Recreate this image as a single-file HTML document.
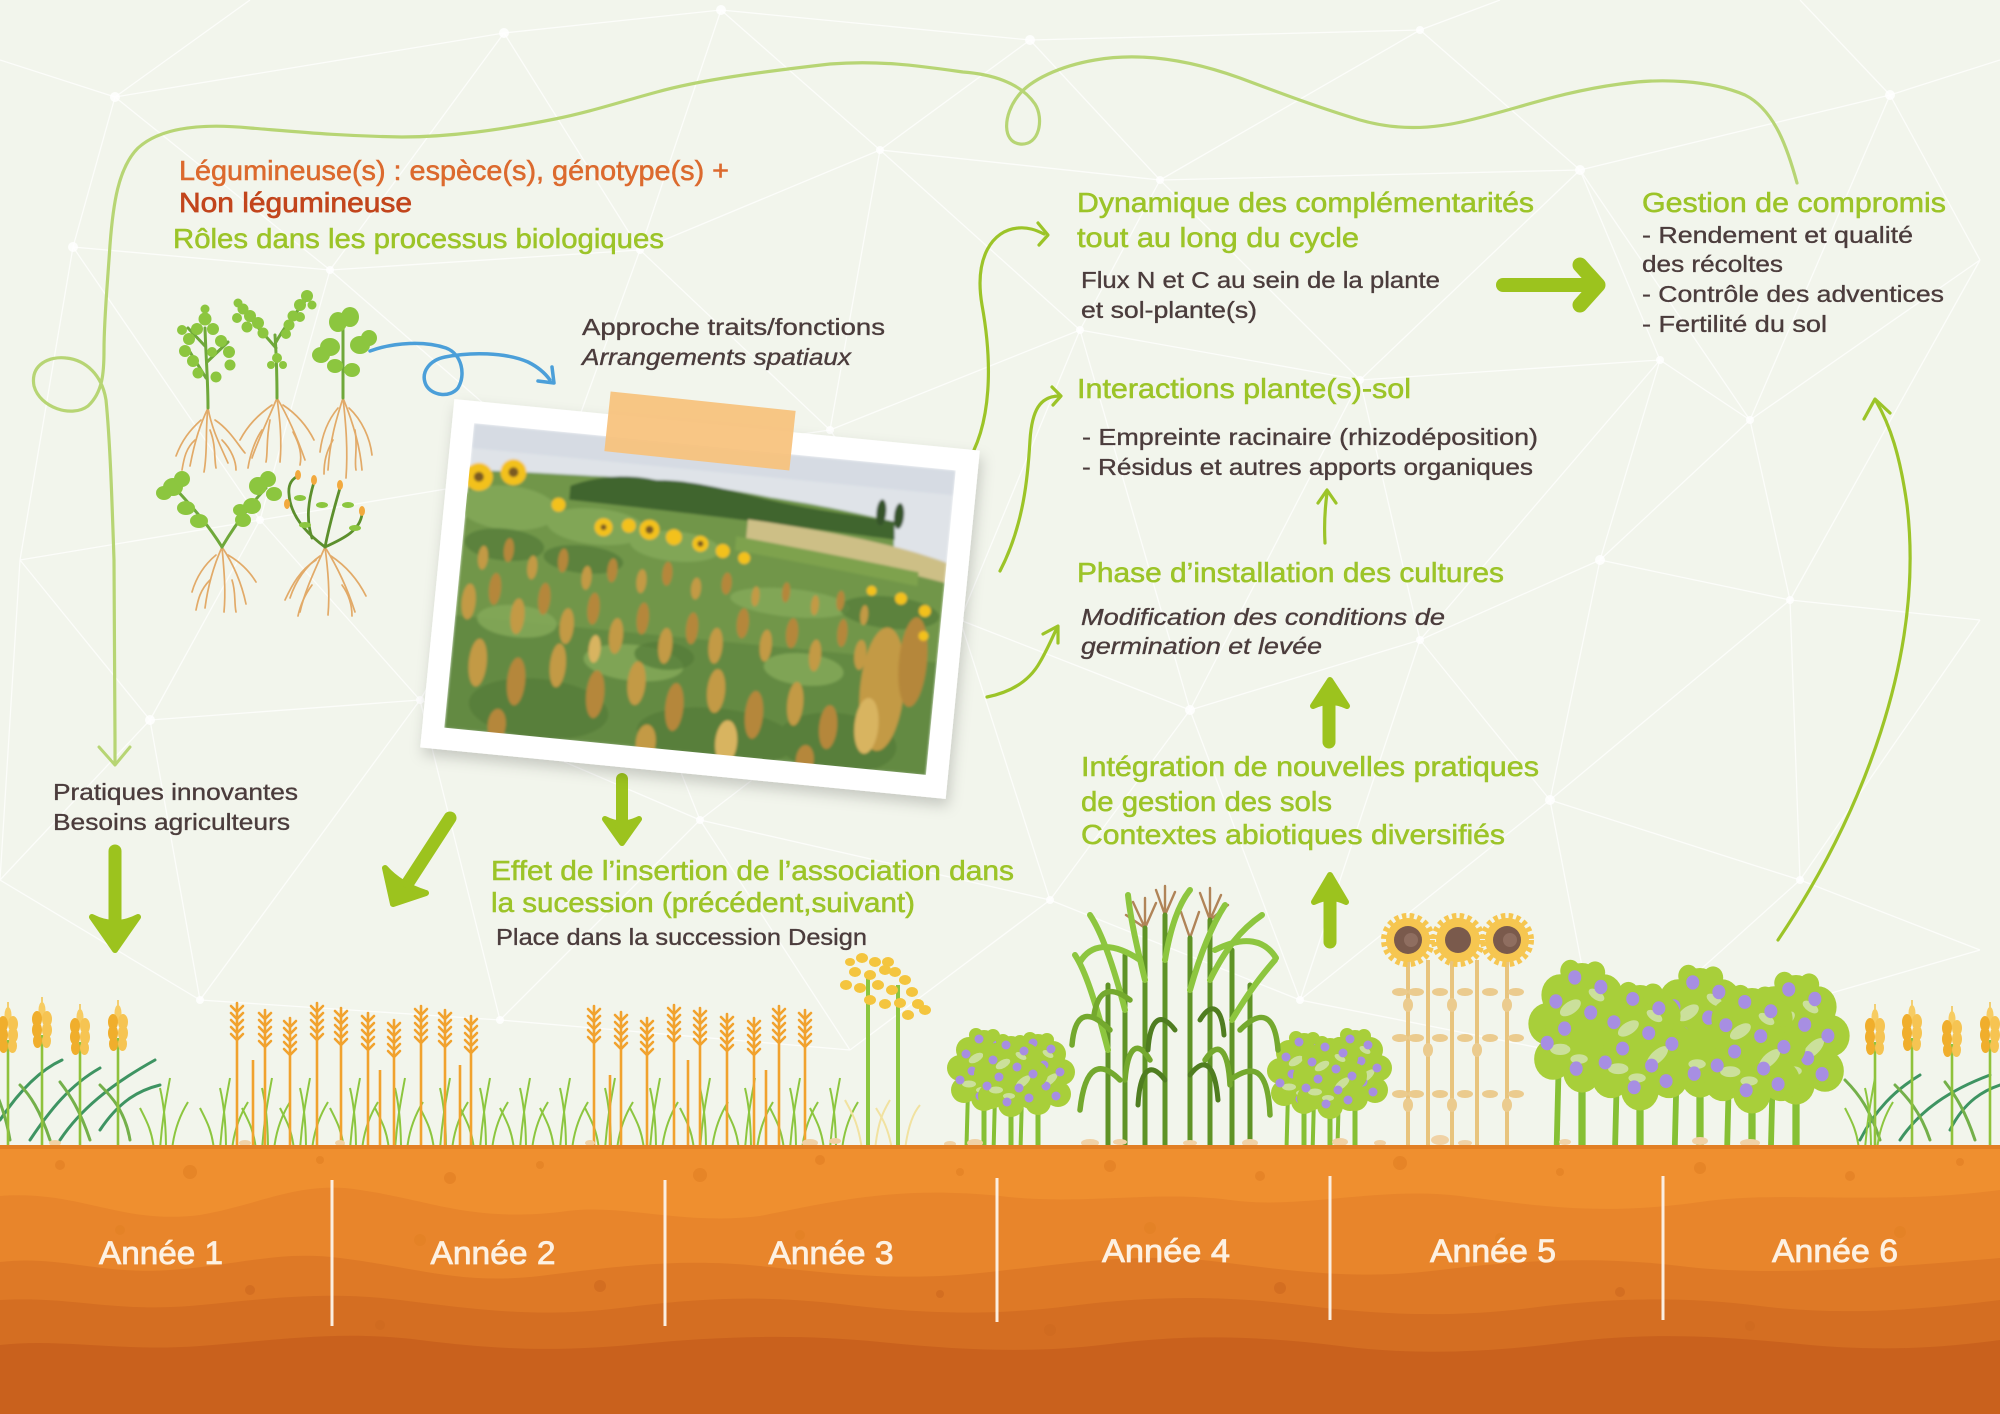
<!DOCTYPE html>
<html><head><meta charset="utf-8"><style>
html,body{margin:0;padding:0;background:#f2f5ec;}
svg{display:block;}
text{font-family:"Liberation Sans","DejaVu Sans",sans-serif;}
.g{fill:#9cc428;stroke:#9cc428;stroke-width:.55;font-size:28px;}
.d{fill:#4b3c3c;stroke:#4b3c3c;stroke-width:.35;font-size:23px;}
.i{font-style:italic;}
.y{fill:#fdf1e2;stroke:#fdf1e2;stroke-width:.8;font-size:32px;}
</style></head><body>
<svg width="2000" height="1414" viewBox="0 0 2000 1414" xmlns="http://www.w3.org/2000/svg">
<defs>
<filter id="sh" x="-10%" y="-10%" width="130%" height="130%"><feDropShadow dx="3" dy="7" stdDeviation="7" flood-color="#000" flood-opacity="0.18"/></filter>
<filter id="bl"><feGaussianBlur stdDeviation="1.3"/></filter>
<clipPath id="pc"><rect x="-242" y="-153" width="484" height="306"/></clipPath>
<g id="wy">
 <line x1="0" y1="30" x2="0" y2="170" stroke="#8fc23c" stroke-width="2.6"/>
 <path d="M0,-8 L0,4" stroke="#f3c04a" stroke-width="1.5"/>
 <ellipse cx="0" cy="5" rx="3.5" ry="8" fill="#f7cc62"/>
 <ellipse cx="-5" cy="14" rx="5" ry="8" fill="#f0ae2c"/>
 <ellipse cx="5" cy="14" rx="5" ry="8" fill="#f6c452"/>
 <ellipse cx="-5" cy="25" rx="5" ry="8" fill="#f0ae2c"/>
 <ellipse cx="5" cy="25" rx="5" ry="8" fill="#f6c452"/>
 <ellipse cx="-4.5" cy="36" rx="4.5" ry="7" fill="#f0ae2c"/>
 <ellipse cx="4.5" cy="36" rx="4.5" ry="7" fill="#f6c452"/>
</g>
<g id="sp" fill="none" stroke="#f1a22e" stroke-width="2.6" stroke-linecap="round">
 <line x1="0" y1="0" x2="0" y2="175"/>
 <polyline points="-6,3 0,9 6,3"/><polyline points="-6,10 0,16 6,10"/><polyline points="-6,17 0,23 6,17"/><polyline points="-6,24 0,30 6,24"/><polyline points="-6,31 0,37 6,31"/>
</g>
<g id="gr" stroke="#8cc63f" stroke-width="2" fill="none">
 <path d="M0,0 C2,-30 6,-50 10,-72"/><path d="M6,0 C6,-25 4,-45 0,-62"/><path d="M12,0 C14,-20 20,-35 28,-48"/><path d="M-6,0 C-8,-20 -14,-30 -20,-42"/>
</g>
<g id="bu">
 <line x1="0" y1="55" x2="0" y2="135" stroke="#86c034" stroke-width="5"/>
 <line x1="-16" y1="60" x2="-18" y2="135" stroke="#86c034" stroke-width="4"/>
 <g fill="#a8cf3a">
 <circle cx="0" cy="14" r="14"/><circle cx="-15" cy="20" r="13"/><circle cx="15" cy="20" r="13"/><circle cx="-24" cy="38" r="13"/><circle cx="24" cy="38" r="13"/><circle cx="0" cy="40" r="25"/><circle cx="-20" cy="60" r="13"/><circle cx="20" cy="60" r="13"/><circle cx="0" cy="68" r="13"/><circle cx="-8" cy="5" r="7"/><circle cx="9" cy="6" r="7"/>
 </g>
 <g fill="#cbe09b">
 <ellipse cx="-8" cy="28" rx="8" ry="4" transform="rotate(-30 -8 28)"/><ellipse cx="12" cy="46" rx="9" ry="4" transform="rotate(-40 12 46)"/><ellipse cx="-15" cy="54" rx="7" ry="3.5"/><ellipse cx="10" cy="20" rx="6" ry="3" transform="rotate(30 10 20)"/><ellipse cx="-2" cy="60" rx="6" ry="3"/>
 </g>
 <g fill="#a78ee2">
 <circle cx="-5" cy="9" r="4.5"/><circle cx="13" cy="15" r="4.5"/><circle cx="-18" cy="24" r="4.5"/><circle cx="6" cy="31" r="4.5"/><circle cx="-12" cy="41" r="4.5"/><circle cx="22" cy="38" r="4.5"/><circle cx="-24" cy="50" r="4.5"/><circle cx="8" cy="52" r="4.5"/><circle cx="-4" cy="66" r="4.5"/><circle cx="18" cy="62" r="4.5"/>
 </g>
</g>
</defs>

<rect width="2000" height="1414" fill="#f2f5ec"/>

<!-- network -->
<path fill="none" stroke="#ffffff" stroke-width="1.3" opacity="0.75" d="
M115,97L504,33 M504,33L721,10 M115,97L73,247 M115,97L330,270 M504,33L330,270 M504,33L640,250 M721,10L640,250 M721,10L880,150 M721,10L1030,40 M880,150L1030,40 M640,250L880,150 M880,150L1160,180 M1030,40L1160,180 M1030,40L1420,30 M1160,180L1420,30 M1420,30L1580,170 M1160,180L1580,170 M1580,170L1890,95 M1890,95L1980,260 M1580,170L1660,360 M1580,170L1750,420 M1890,95L1750,420 M1980,260L1750,420 M1160,180L1080,330 M1080,330L1360,380 M1160,180L1360,380 M1360,380L1580,170 M1360,380L1660,360 M1660,360L1750,420 M880,150L1080,330 M640,250L830,430 M880,150L830,430 M1080,330L830,430 M330,270L640,250 M330,270L560,470 M640,250L560,470 M830,430L560,470 M73,247L330,270 M73,247L260,520 M330,270L260,520 M260,520L560,470 M73,247L20,560 M20,560L260,520 M260,520L150,720 M20,560L150,720 M260,520L420,700 M560,470L420,700 M150,720L420,700 M420,700L700,820 M560,470L700,820 M830,430L960,620 M700,820L960,620 M1080,330L960,620 M960,620L1190,710 M1080,330L1190,710 M1360,380L1190,710 M1360,380L1420,640 M1190,710L1420,640 M1660,360L1420,640 M1660,360L1600,560 M1420,640L1600,560 M1750,420L1600,560 M1750,420L1790,600 M1600,560L1790,600 M1790,600L1980,260 M1790,600L1980,620 M1420,640L1550,800 M1600,560L1550,800 M1790,600L1550,800 M1550,800L1800,880 M1790,600L1800,880 M1980,620L1800,880 M1800,880L1980,950 M1190,710L1050,900 M700,820L1050,900 M960,620L1050,900 M1050,900L1300,1000 M1190,710L1300,1000 M1420,640L1300,1000 M1550,800L1300,1000 M1300,1000L1600,1060 M1550,800L1600,1060 M1800,880L1600,1060 M150,720L200,1000 M420,700L200,1000 M420,700L500,1020 M700,820L500,1020 M500,1020L200,1000 M700,820L850,1050 M1050,900L850,1050 M500,1020L850,1050 M20,560L0,880 M150,720L0,880 M200,1000L0,880 M115,97L0,60 M115,97L250,0 M1890,95L1800,0 M1420,30L1500,0 M1890,95L2000,60 M1980,950L1600,1060"/>
<g fill="#ffffff" opacity="0.85">
<circle cx="115" cy="97" r="5"/><circle cx="504" cy="33" r="5"/><circle cx="721" cy="10" r="5"/><circle cx="73" cy="247" r="5"/><circle cx="330" cy="270" r="4"/><circle cx="640" cy="250" r="4"/><circle cx="880" cy="150" r="4"/><circle cx="1030" cy="40" r="5"/><circle cx="1160" cy="180" r="4"/><circle cx="1420" cy="30" r="4"/><circle cx="1580" cy="170" r="5"/><circle cx="1890" cy="95" r="5"/><circle cx="1660" cy="360" r="4"/><circle cx="1360" cy="380" r="4"/><circle cx="1080" cy="330" r="4"/><circle cx="830" cy="430" r="4"/><circle cx="560" cy="470" r="4"/><circle cx="260" cy="520" r="4"/><circle cx="150" cy="720" r="5"/><circle cx="420" cy="700" r="4"/><circle cx="700" cy="820" r="4"/><circle cx="960" cy="620" r="4"/><circle cx="1190" cy="710" r="5"/><circle cx="1050" cy="900" r="4"/><circle cx="1420" cy="640" r="4"/><circle cx="1600" cy="560" r="5"/><circle cx="1790" cy="600" r="4"/><circle cx="1550" cy="800" r="5"/><circle cx="1800" cy="880" r="4"/><circle cx="1300" cy="1000" r="4"/><circle cx="500" cy="1020" r="4"/><circle cx="200" cy="1000" r="4"/><circle cx="1750" cy="420" r="4"/>
</g>

<!-- big light green line -->
<path fill="none" stroke="#b7d574" stroke-width="3.2" stroke-linecap="round" d="M1797,183 C1788,150 1775,110 1745,95 C1710,80 1660,78 1620,84 C1560,92 1520,108 1470,120 C1430,130 1395,130 1360,120 C1320,108 1280,93 1240,78 C1190,60 1140,52 1095,60 C1060,66 1030,80 1018,96 C1003,115 1002,142 1020,144 C1040,146 1044,118 1035,104 C1020,82 990,74 963,72 C920,66 880,60 830,64 C760,72 700,80 657,92 C620,102 590,112 555,119 C500,130 450,137 402,137 C340,136 300,132 250,128 C200,123 160,128 138,148 C118,168 113,205 110,245 C107,290 104,320 104,350 C104,372 103,392 88,406 C72,418 40,408 34,386 C30,364 50,356 66,358 C86,360 102,375 106,400 C110,440 112,500 114,560 C115,640 115,700 115,763"/>
<polyline points="99,747 115,765 130,747" fill="none" stroke="#b7d574" stroke-width="3" stroke-linecap="round" stroke-linejoin="round"/>

<!-- right return arrow -->
<path d="M1778,940 C1862,815 1925,655 1907,505 C1900,455 1890,425 1876,401" fill="none" stroke="#9cc428" stroke-width="3.2" stroke-linecap="round"/>
<polyline points="1864,419 1875,399 1890,413" fill="none" stroke="#9cc428" stroke-width="3.2" stroke-linecap="round" stroke-linejoin="round"/>

<!-- thin green arrows from photo -->
<g fill="none" stroke="#9cc428" stroke-width="3.2" stroke-linecap="round" stroke-linejoin="round">
<path d="M965,466 C993,425 992,360 982,305 C974,258 992,230 1018,228 C1028,227 1036,230 1044,234"/>
<polyline points="1038,223 1048,235 1039,245"/>
<path d="M1000,571 C1024,525 1028,475 1030,440 C1032,410 1040,397 1058,396"/>
<polyline points="1052,387 1061,396 1053,405"/>
<path d="M987,697 C1012,692 1030,680 1040,662 C1047,650 1052,638 1057,628"/>
<polyline points="1043,634 1058,626 1058,643"/>
<path d="M1325,543 C1324,525 1325,508 1327,493"/>
<polyline points="1318,503 1327,490 1336,503"/>
</g>

<!-- thick arrows -->
<g fill="#9cc31e" stroke="#9cc31e" stroke-linecap="round" stroke-linejoin="round">
<line x1="1503" y1="285" x2="1584" y2="285" stroke-width="14"/>
<polyline points="1580,265 1598,285 1580,305" fill="none" stroke-width="15"/>
<line x1="1329" y1="742" x2="1329" y2="700" stroke-width="13"/>
<path d="M1313,706 Q1330,698 1347,706 L1330,680 Z" stroke-width="6"/>
<line x1="1330" y1="942" x2="1330" y2="898" stroke-width="13"/>
<path d="M1314,902 Q1330,894 1346,902 L1330,875 Z" stroke-width="6"/>
<line x1="115" y1="851" x2="115" y2="925" stroke-width="13"/>
<path d="M92,917 Q115,929 138,917 L115,950 Z" stroke-width="6"/>
<line x1="622" y1="779" x2="622" y2="826" stroke-width="12"/>
<path d="M605,819 Q622,828 639,819 L622,843 Z" stroke-width="6"/>
<line x1="450" y1="818" x2="402" y2="892" stroke-width="13"/>
<path d="M385,868 Q400,885 426,893 L393,904 Z" stroke-width="6"/>
</g>

<!-- blue curly arrow -->
<path d="M370,351 C395,342 425,341 446,348 C462,354 466,375 458,388 C450,398 432,396 426,385 C420,372 430,360 445,357 C470,352 505,352 528,362 C538,367 545,373 550,380" fill="none" stroke="#4b9fd9" stroke-width="3.5" stroke-linecap="round"/>
<polyline points="552,367 554,383 538,381" fill="none" stroke="#4b9fd9" stroke-width="3.5" stroke-linecap="round" stroke-linejoin="round"/>

<!-- texts -->
<text x="179" y="180" textLength="550" lengthAdjust="spacingAndGlyphs" style="fill:#dc6a2e;stroke:#dc6a2e;stroke-width:.55;font-size:28px">Légumineuse(s) : espèce(s), génotype(s) +</text>
<text x="179" y="212" textLength="233" lengthAdjust="spacingAndGlyphs" style="fill:#c2451c;stroke:#c2451c;stroke-width:.7;font-size:28px">Non légumineuse</text>
<text class="g" x="173" y="248" textLength="491" lengthAdjust="spacingAndGlyphs">Rôles dans les processus biologiques</text>
<text class="d" x="582" y="335" textLength="303" lengthAdjust="spacingAndGlyphs">Approche traits/fonctions</text>
<text class="d i" x="582" y="365" textLength="269" lengthAdjust="spacingAndGlyphs">Arrangements spatiaux</text>

<text class="g" x="1077" y="212" textLength="457" lengthAdjust="spacingAndGlyphs">Dynamique des complémentarités</text>
<text class="g" x="1077" y="247" textLength="282" lengthAdjust="spacingAndGlyphs">tout au long du cycle</text>
<text class="d" x="1081" y="288" textLength="359" lengthAdjust="spacingAndGlyphs">Flux N et C au sein de la plante</text>
<text class="d" x="1081" y="318" textLength="176" lengthAdjust="spacingAndGlyphs">et sol-plante(s)</text>

<text class="g" x="1642" y="212" textLength="304" lengthAdjust="spacingAndGlyphs">Gestion de compromis</text>
<text class="d" x="1642" y="243" textLength="271" lengthAdjust="spacingAndGlyphs">- Rendement et qualité</text>
<text class="d" x="1642" y="272" textLength="141" lengthAdjust="spacingAndGlyphs">des récoltes</text>
<text class="d" x="1642" y="302" textLength="302" lengthAdjust="spacingAndGlyphs">- Contrôle des adventices</text>
<text class="d" x="1642" y="332" textLength="185" lengthAdjust="spacingAndGlyphs">- Fertilité du sol</text>

<text class="g" x="1077" y="398" textLength="334" lengthAdjust="spacingAndGlyphs">Interactions plante(s)-sol</text>
<text class="d" x="1082" y="445" textLength="456" lengthAdjust="spacingAndGlyphs">- Empreinte racinaire (rhizodéposition)</text>
<text class="d" x="1082" y="475" textLength="451" lengthAdjust="spacingAndGlyphs">- Résidus et autres apports organiques</text>

<text class="g" x="1077" y="582" textLength="427" lengthAdjust="spacingAndGlyphs">Phase d’installation des cultures</text>
<text class="d i" x="1081" y="625" textLength="364" lengthAdjust="spacingAndGlyphs">Modification des conditions de</text>
<text class="d i" x="1081" y="654" textLength="241" lengthAdjust="spacingAndGlyphs">germination et levée</text>

<text class="g" x="1081" y="776" textLength="458" lengthAdjust="spacingAndGlyphs">Intégration de nouvelles pratiques</text>
<text class="g" x="1081" y="811" textLength="251" lengthAdjust="spacingAndGlyphs">de gestion des sols</text>
<text class="g" x="1081" y="844" textLength="424" lengthAdjust="spacingAndGlyphs">Contextes abiotiques diversifiés</text>

<text class="d" x="53" y="800" textLength="245" lengthAdjust="spacingAndGlyphs">Pratiques innovantes</text>
<text class="d" x="53" y="830" textLength="237" lengthAdjust="spacingAndGlyphs">Besoins agriculteurs</text>

<text class="g" x="491" y="880" textLength="523" lengthAdjust="spacingAndGlyphs">Effet de l’insertion de l’association dans</text>
<text class="g" x="491" y="912" textLength="424" lengthAdjust="spacingAndGlyphs">la sucession (précédent,suivant)</text>
<text class="d" x="496" y="945" textLength="371" lengthAdjust="spacingAndGlyphs">Place dans la succession Design</text>

<!-- seedlings -->
<g fill="none" stroke-linecap="round">
 <g stroke="#e2aa68" stroke-width="1.7">
  <path d="M208,408 C200,425 195,440 190,466"/><path d="M208,408 C212,430 220,445 228,463"/><path d="M208,408 C205,430 208,450 204,472"/><path d="M201,420 C190,430 182,440 176,456"/><path d="M215,420 C230,430 238,445 245,453"/><path d="M195,440 C186,448 184,458 182,470"/><path d="M222,440 C232,450 236,462 236,470"/><path d="M210,430 C216,445 214,458 216,468"/>
  <path d="M277,398 C268,420 258,440 252,458"/><path d="M277,398 C280,420 282,440 280,462"/><path d="M277,398 C290,420 298,440 305,460"/><path d="M272,405 C258,415 248,425 240,440"/><path d="M283,405 C298,415 308,428 314,440"/><path d="M262,430 C255,440 250,455 248,468"/><path d="M293,432 C300,445 302,455 300,465"/><path d="M270,420 C266,440 268,452 266,462"/>
  <path d="M343,398 C336,420 330,440 328,470"/><path d="M343,398 C346,425 348,450 346,478"/><path d="M343,398 C352,420 360,445 362,470"/><path d="M338,408 C328,420 322,435 320,452"/><path d="M349,408 C362,420 370,438 372,455"/><path d="M333,440 C326,452 324,462 324,474"/><path d="M355,430 C358,448 354,460 356,470"/>
  <path d="M222,547 C214,565 208,585 205,608"/><path d="M222,547 C224,570 226,590 224,612"/><path d="M222,547 C234,565 242,585 246,604"/><path d="M216,555 C204,565 196,578 192,592"/><path d="M228,555 C240,562 250,572 256,582"/><path d="M210,580 C200,590 198,600 196,610"/><path d="M232,580 C236,592 234,602 236,612"/>
  <path d="M325,547 C315,570 305,590 300,612"/><path d="M325,547 C328,570 330,592 328,615"/><path d="M325,547 C338,568 348,590 355,612"/><path d="M320,556 C306,566 296,580 290,598"/><path d="M331,556 C346,566 358,580 366,596"/><path d="M312,585 C304,596 300,606 298,616"/><path d="M342,585 C350,596 352,606 352,616"/><path d="M316,560 C300,570 292,585 285,600"/>
 </g>
 <g stroke="#6fa83a" stroke-width="3">
  <path d="M208,408 C208,380 206,360 205,328"/><path d="M206,378 L190,352"/><path d="M207,362 L228,342"/><path d="M205,346 L188,328"/>
  <path d="M277,398 C277,370 276,350 275,335"/><path d="M276,348 C265,335 255,325 244,310"/><path d="M276,342 C285,326 295,314 306,300"/>
  <path d="M343,398 L343,328"/>
  <path d="M222,547 C205,520 190,505 175,488"/><path d="M222,547 C235,525 250,505 266,488"/>
 </g>
 <g stroke="#5c8f2c" stroke-width="2.8">
  <path d="M325,547 C302,530 290,512 289,494 C288,484 292,479 298,476"/><path d="M325,547 C330,522 335,505 340,488"/><path d="M325,547 C345,538 360,530 362,514"/><path d="M312,538 C306,520 308,502 314,482"/>
 </g>
</g>
<g fill="#8cc63f">
 <circle cx="205" cy="319" r="6.5"/><circle cx="197" cy="329" r="6"/><circle cx="213" cy="329" r="6"/><circle cx="189" cy="339" r="6"/><circle cx="221" cy="341" r="6"/><circle cx="185" cy="351" r="6"/><circle cx="229" cy="352" r="6"/><circle cx="193" cy="361" r="6"/><circle cx="230" cy="365" r="5.5"/><circle cx="198" cy="373" r="5.5"/><circle cx="216" cy="377" r="5.5"/><circle cx="182" cy="330" r="5"/><circle cx="212" cy="352" r="5"/><circle cx="205" cy="309" r="4.5"/>
 <circle cx="250" cy="316" r="6"/><circle cx="258" cy="323" r="6"/><circle cx="263" cy="333" r="5.5"/><circle cx="247" cy="327" r="5.5"/><circle cx="243" cy="309" r="5.5"/><circle cx="237" cy="318" r="5"/><circle cx="300" cy="305" r="6"/><circle cx="307" cy="296" r="6"/><circle cx="293" cy="316" r="5.5"/><circle cx="289" cy="325" r="5.5"/><circle cx="300" cy="317" r="5"/><circle cx="286" cy="334" r="5"/><circle cx="277" cy="358" r="5"/><circle cx="271" cy="365" r="4"/><circle cx="283" cy="365" r="4"/><circle cx="312" cy="305" r="4.5"/><circle cx="238" cy="303" r="4.5"/>
 <ellipse cx="338" cy="322" rx="9" ry="10"/><ellipse cx="350" cy="317" rx="9" ry="10"/><ellipse cx="330" cy="347" rx="10" ry="9"/><ellipse cx="321" cy="355" rx="9" ry="8"/><ellipse cx="360" cy="345" rx="10" ry="9"/><ellipse cx="369" cy="338" rx="8" ry="8"/><ellipse cx="335" cy="366" rx="8" ry="7"/><ellipse cx="352" cy="370" rx="8" ry="7"/>
 <ellipse cx="173" cy="487" rx="10" ry="9"/><ellipse cx="182" cy="479" rx="8" ry="8"/><ellipse cx="164" cy="493" rx="8" ry="7"/><ellipse cx="186" cy="508" rx="9" ry="7"/><ellipse cx="199" cy="521" rx="9" ry="7"/><ellipse cx="258" cy="486" rx="9" ry="9"/><ellipse cx="268" cy="479" rx="8" ry="8"/><ellipse cx="274" cy="494" rx="8" ry="7"/><ellipse cx="252" cy="506" rx="9" ry="8"/><ellipse cx="243" cy="520" rx="8" ry="7"/><ellipse cx="240" cy="510" rx="7" ry="6"/>
 <ellipse cx="300" cy="498" rx="6" ry="3"/><ellipse cx="322" cy="505" rx="6" ry="3"/><ellipse cx="348" cy="505" rx="6" ry="3"/><ellipse cx="355" cy="528" rx="6" ry="3"/><ellipse cx="305" cy="525" rx="6" ry="3"/>
</g>
<g fill="#f2a93e">
 <ellipse cx="298" cy="475" rx="3" ry="5"/><ellipse cx="314" cy="480" rx="3" ry="5"/><ellipse cx="340" cy="485" rx="3" ry="5"/><ellipse cx="362" cy="511" rx="3" ry="5"/><ellipse cx="287" cy="504" rx="3" ry="5"/>
</g>

<!-- photo -->
<g transform="translate(700,599) rotate(5.6)">
 <rect x="-264" y="-175" width="528" height="350" fill="#ffffff" filter="url(#sh)"/>
 <g clip-path="url(#pc)">
  <g filter="url(#bl)">
  <rect x="-242" y="-153" width="484" height="306" fill="#71964a"/>
  <rect x="-242" y="40" width="484" height="120" fill="#5f8540" opacity="0.7"/>
  <path d="M-242,-153 H242 V-58 C225,-60 205,-64 188,-68 L186,-96 C140,-102 100,-106 60,-108 C0,-114 -60,-116 -120,-112 C-170,-110 -210,-108 -242,-106 Z" fill="#dfe3e8"/>
  <path d="M-242,-153 H242 V-128 H-242 Z" fill="#d6dbe3"/>
  <path d="M-140,-100 C-115,-112 -85,-118 -55,-114 C-25,-118 15,-112 55,-106 C100,-100 140,-99 186,-96 L188,-78 C120,-80 40,-84 -140,-86 Z" fill="#40652f"/>
  <ellipse cx="172" cy="-104" rx="5" ry="13" fill="#34522a"/><ellipse cx="190" cy="-102" rx="5" ry="13" fill="#34522a"/>
  <path d="M40,-84 C120,-80 190,-74 242,-60 L242,-40 C180,-50 110,-58 40,-64 Z" fill="#cdbf86"/>
  <path d="M30,-66 C100,-60 160,-54 215,-48 L215,-34 C160,-40 100,-46 30,-52 Z" fill="#7ea24d"/>
  <g fill="#86ab5a" opacity="0.8">
   <ellipse cx="-200" cy="-72" rx="50" ry="22"/><ellipse cx="-110" cy="-62" rx="50" ry="18"/><ellipse cx="-30" cy="-50" rx="45" ry="15"/><ellipse cx="90" cy="-5" rx="60" ry="14"/><ellipse cx="-60" cy="70" rx="50" ry="18"/><ellipse cx="110" cy="60" rx="40" ry="16"/><ellipse cx="-180" cy="40" rx="40" ry="16"/>
  </g>
  <g fill="#557c38" opacity="0.75">
   <ellipse cx="-200" cy="-35" rx="40" ry="16"/><ellipse cx="-120" cy="-28" rx="40" ry="14"/><ellipse cx="190" cy="-5" rx="50" ry="16"/><ellipse cx="-150" cy="125" rx="70" ry="30"/><ellipse cx="30" cy="135" rx="80" ry="28"/><ellipse cx="150" cy="130" rx="60" ry="30"/><ellipse cx="-30" cy="60" rx="30" ry="14"/>
  </g>
  <g fill="#c39a45">
   <ellipse cx="-220" cy="-20" rx="5" ry="12"/><ellipse cx="-170" cy="-15" rx="5" ry="12"/><ellipse cx="-115" cy="-10" rx="5" ry="12"/><ellipse cx="-60" cy="-12" rx="5" ry="12"/><ellipse cx="-5" cy="-10" rx="5" ry="11"/><ellipse cx="55" cy="-8" rx="4" ry="10"/><ellipse cx="115" cy="-5" rx="4" ry="10"/><ellipse cx="165" cy="0" rx="4" ry="10"/>
   <ellipse cx="-230" cy="25" rx="7" ry="18"/><ellipse cx="-180" cy="35" rx="7" ry="18"/><ellipse cx="-130" cy="40" rx="7" ry="18"/><ellipse cx="-80" cy="45" rx="7" ry="18"/><ellipse cx="-30" cy="50" rx="7" ry="18"/><ellipse cx="20" cy="45" rx="7" ry="18"/><ellipse cx="70" cy="40" rx="6" ry="16"/><ellipse cx="120" cy="45" rx="6" ry="16"/><ellipse cx="165" cy="40" rx="6" ry="15"/>
   <ellipse cx="-215" cy="85" rx="9" ry="24"/><ellipse cx="-135" cy="80" rx="8" ry="22"/><ellipse cx="-55" cy="90" rx="9" ry="22"/><ellipse cx="25" cy="90" rx="9" ry="22"/><ellipse cx="105" cy="95" rx="8" ry="22"/>
   <ellipse cx="190" cy="72" rx="22" ry="62"/><ellipse cx="-40" cy="148" rx="10" ry="18"/>
  </g>
  <g fill="#b5873b">
   <ellipse cx="-195" cy="-30" rx="5" ry="12"/><ellipse cx="-140" cy="-25" rx="5" ry="12"/><ellipse cx="-90" cy="-20" rx="5" ry="12"/><ellipse cx="-35" cy="-22" rx="5" ry="12"/><ellipse cx="25" cy="-18" rx="5" ry="11"/><ellipse cx="85" cy="-15" rx="4" ry="10"/><ellipse cx="140" cy="-12" rx="4" ry="10"/>
   <ellipse cx="-205" cy="10" rx="6" ry="16"/><ellipse cx="-155" cy="15" rx="6" ry="16"/><ellipse cx="-105" cy="20" rx="6" ry="16"/><ellipse cx="-55" cy="25" rx="6" ry="16"/><ellipse cx="-5" cy="30" rx="6" ry="16"/><ellipse cx="45" cy="20" rx="6" ry="15"/><ellipse cx="95" cy="25" rx="6" ry="15"/><ellipse cx="145" cy="20" rx="5" ry="14"/>
   <ellipse cx="-175" cy="100" rx="9" ry="24"/><ellipse cx="-95" cy="105" rx="9" ry="24"/><ellipse cx="-15" cy="110" rx="9" ry="24"/><ellipse cx="65" cy="110" rx="9" ry="24"/><ellipse cx="140" cy="115" rx="9" ry="22"/>
   <ellipse cx="218" cy="42" rx="14" ry="45"/><ellipse cx="-190" cy="145" rx="9" ry="16"/><ellipse cx="120" cy="150" rx="9" ry="15"/>
  </g>
  <g fill="#d8b460"><ellipse cx="40" cy="140" rx="11" ry="22"/><ellipse cx="178" cy="110" rx="12" ry="28"/><ellipse cx="-100" cy="60" rx="6" ry="14"/></g>
  <g fill="#f3c11c">
   <circle cx="-232" cy="-100" r="14"/><circle cx="-198" cy="-108" r="13"/><circle cx="-150" cy="-80" r="7"/><circle cx="-103" cy="-62" r="9"/><circle cx="-78" cy="-66" r="7"/><circle cx="-57" cy="-64" r="10"/><circle cx="-32" cy="-59" r="8"/><circle cx="-5" cy="-55" r="8"/><circle cx="18" cy="-50" r="7"/><circle cx="40" cy="-45" r="6"/><circle cx="170" cy="-25" r="5"/><circle cx="200" cy="-20" r="6"/><circle cx="225" cy="-10" r="6"/><circle cx="226" cy="15" r="5"/>
  </g>
  <g fill="#7a5a20">
   <circle cx="-232" cy="-100" r="5"/><circle cx="-198" cy="-108" r="5"/><circle cx="-57" cy="-64" r="4"/><circle cx="-103" cy="-62" r="3"/><circle cx="-5" cy="-55" r="3"/>
  </g>
  </g>
 </g>
</g>
<g transform="translate(700,431) rotate(6)"><rect x="-93" y="-30" width="186" height="60" fill="#f8c27c" opacity="0.93"/></g>

<!-- crops -->
<g fill="none" stroke-linecap="round">
 <g stroke="#3e9462" stroke-width="3"><path d="M0,1120 C20,1090 40,1070 62,1060"/><path d="M30,1140 C50,1110 70,1085 100,1068"/><path d="M60,1140 C80,1110 110,1085 155,1060"/><path d="M100,1130 C120,1100 140,1090 160,1085"/><path d="M1860,1140 C1875,1110 1895,1090 1920,1075"/><path d="M1900,1140 C1920,1110 1950,1090 1990,1075"/><path d="M1950,1130 C1965,1100 1985,1090 2000,1085"/></g>
 <g stroke="#74b04a" stroke-width="3"><path d="M10,1140 C5,1110 -5,1090 -10,1080"/><path d="M50,1140 C40,1110 30,1095 20,1085"/><path d="M90,1140 C80,1110 70,1095 60,1082"/><path d="M130,1140 C125,1110 110,1095 100,1085"/><path d="M1880,1140 C1870,1110 1860,1095 1845,1080"/><path d="M1930,1140 C1920,1110 1905,1095 1895,1085"/><path d="M1975,1140 C1965,1110 1955,1095 1945,1082"/></g>
</g>
<use href="#wy" x="8" y="1010"/><use href="#wy" x="42" y="1005"/><use href="#wy" x="80" y="1012"/><use href="#wy" x="118" y="1008"/>
<use href="#wy" x="1875" y="1012"/><use href="#wy" x="1912" y="1008"/><use href="#wy" x="1952" y="1014"/><use href="#wy" x="1990" y="1010"/>

<use href="#gr" x="220" y="1150"/><use href="#gr" x="262" y="1150"/><use href="#gr" x="300" y="1150"/><use href="#gr" x="350" y="1150"/><use href="#gr" x="395" y="1150"/><use href="#gr" x="440" y="1150"/><use href="#gr" x="480" y="1150"/><use href="#gr" x="520" y="1150"/><use href="#gr" x="560" y="1150"/><use href="#gr" x="605" y="1150"/><use href="#gr" x="650" y="1150"/><use href="#gr" x="700" y="1150"/><use href="#gr" x="745" y="1150"/><use href="#gr" x="790" y="1150"/><use href="#gr" x="830" y="1150"/><use href="#gr" x="160" y="1150"/><use href="#gr" x="1865" y="1150"/>

<use href="#sp" x="237" y="1003"/><use href="#sp" x="265" y="1010"/><use href="#sp" x="290" y="1018"/><use href="#sp" x="317" y="1003"/><use href="#sp" x="341" y="1008"/><use href="#sp" x="368" y="1013"/><use href="#sp" x="394" y="1020"/><use href="#sp" x="421" y="1006"/><use href="#sp" x="445" y="1010"/><use href="#sp" x="471" y="1016"/>
<use href="#sp" x="594" y="1006"/><use href="#sp" x="621" y="1012"/><use href="#sp" x="647" y="1018"/><use href="#sp" x="674" y="1005"/><use href="#sp" x="700" y="1008"/><use href="#sp" x="727" y="1014"/><use href="#sp" x="754" y="1018"/><use href="#sp" x="779" y="1006"/><use href="#sp" x="805" y="1010"/>
<g stroke="#f1a22e" stroke-width="2.6"><line x1="253" y1="1060" x2="253" y2="1150"/><line x1="380" y1="1070" x2="380" y2="1150"/><line x1="460" y1="1065" x2="460" y2="1150"/><line x1="610" y1="1075" x2="610" y2="1150"/><line x1="688" y1="1060" x2="688" y2="1150"/><line x1="766" y1="1070" x2="766" y2="1150"/></g>

<!-- yellow flower plant -->
<g>
 <line x1="868" y1="975" x2="868" y2="1150" stroke="#8cc63f" stroke-width="4"/>
 <line x1="898" y1="985" x2="898" y2="1150" stroke="#8cc63f" stroke-width="4"/>
 <g stroke="#f1e2a0" stroke-width="2" fill="none"><path d="M862,1150 C858,1120 850,1110 845,1100"/><path d="M875,1150 C878,1120 884,1110 890,1100"/><path d="M892,1150 C888,1125 880,1115 876,1108"/><path d="M905,1150 C908,1125 914,1112 920,1105"/></g>
 <g fill="#f4c53e">
  <ellipse cx="862" cy="958" rx="6" ry="5"/><ellipse cx="875" cy="962" rx="6" ry="5"/><ellipse cx="855" cy="972" rx="6" ry="5"/><ellipse cx="870" cy="975" rx="6" ry="5"/><ellipse cx="885" cy="970" rx="6" ry="5"/><ellipse cx="846" cy="985" rx="6" ry="5"/><ellipse cx="860" cy="988" rx="6" ry="5"/><ellipse cx="878" cy="985" rx="6" ry="5"/><ellipse cx="895" cy="972" rx="6" ry="5"/><ellipse cx="905" cy="980" rx="6" ry="5"/><ellipse cx="892" cy="990" rx="6" ry="5"/><ellipse cx="912" cy="992" rx="6" ry="5"/><ellipse cx="900" cy="1003" rx="6" ry="5"/><ellipse cx="918" cy="1004" rx="6" ry="5"/><ellipse cx="885" cy="1004" rx="6" ry="5"/><ellipse cx="870" cy="1000" rx="6" ry="5"/><ellipse cx="908" cy="1015" rx="6" ry="5"/><ellipse cx="925" cy="1010" rx="6" ry="5"/><ellipse cx="888" cy="962" rx="6" ry="5"/><ellipse cx="850" cy="962" rx="5" ry="4"/>
 </g>
</g>

<use href="#bu" x="984" y="1030"/><use href="#bu" x="1038" y="1034"/><use href="#bu" x="1011" y="1036"/>
<use href="#bu" x="1304" y="1033"/><use href="#bu" x="1355" y="1030"/><use href="#bu" x="1330" y="1038"/>

<!-- corn/sorghum -->
<g fill="none" stroke-linecap="round">
 <g stroke="#b08458" stroke-width="2.4">
  <path d="M1145,928 L1133,902 M1145,928 L1156,903 M1145,928 L1145,898 M1145,928 L1126,915"/>
  <path d="M1165,915 L1156,890 M1165,915 L1175,892 M1165,915 L1165,886"/>
  <path d="M1210,920 L1200,893 M1210,920 L1221,895 M1210,920 L1210,888 M1210,920 L1228,905"/>
  <path d="M1190,938 L1181,912 M1190,938 L1199,912"/>
 </g>
 <g stroke="#5f9326" stroke-width="5">
  <line x1="1108" y1="1150" x2="1108" y2="985"/><line x1="1125" y1="1150" x2="1125" y2="955"/><line x1="1145" y1="1150" x2="1145" y2="928"/><line x1="1165" y1="1150" x2="1165" y2="915"/><line x1="1190" y1="1150" x2="1190" y2="938"/><line x1="1210" y1="1150" x2="1210" y2="920"/><line x1="1232" y1="1150" x2="1232" y2="950"/><line x1="1250" y1="1150" x2="1250" y2="985"/>
 </g>
 <g stroke="#8dc63f" stroke-width="6">
  <path d="M1108,1050 C1095,1000 1085,970 1075,955"/><path d="M1125,1010 C1112,960 1100,930 1090,915"/><path d="M1145,980 C1135,940 1130,915 1128,895"/><path d="M1165,960 C1170,930 1178,905 1190,890"/><path d="M1190,990 C1200,955 1212,925 1225,905"/><path d="M1210,980 C1225,950 1240,930 1262,915"/><path d="M1232,1020 C1250,990 1262,975 1275,960"/>
  <path d="M1140,960 C1110,940 1090,945 1080,962"/><path d="M1215,950 C1245,935 1265,940 1276,958"/>
 </g>
 <g stroke="#74a92e" stroke-width="5.5">
  <path d="M1110,1030 C1090,1010 1075,1010 1072,1045"/><path d="M1120,1080 C1100,1060 1085,1065 1080,1110"/><path d="M1240,1030 C1260,1010 1275,1012 1278,1050"/><path d="M1230,1080 C1255,1062 1268,1070 1270,1115"/><path d="M1150,1060 C1138,1040 1128,1045 1125,1080"/><path d="M1205,1060 C1218,1040 1228,1048 1230,1085"/><path d="M1130,1000 C1110,985 1098,990 1094,1015"/>
 </g>
 <g stroke="#4f7d20" stroke-width="5">
  <path d="M1165,1080 C1150,1060 1140,1070 1138,1105"/><path d="M1190,1075 C1205,1055 1215,1065 1218,1100"/><path d="M1175,1030 C1160,1010 1150,1020 1148,1050"/><path d="M1200,1020 C1212,1000 1222,1008 1224,1035"/>
 </g>
</g>

<!-- sunflowers -->
<g>
 <g stroke="#e8c47e" stroke-width="4"><line x1="1408" y1="960" x2="1408" y2="1150"/><line x1="1428" y1="960" x2="1428" y2="1150"/><line x1="1452" y1="960" x2="1452" y2="1150"/><line x1="1477" y1="960" x2="1477" y2="1150"/><line x1="1507" y1="960" x2="1507" y2="1150"/></g>
 <g fill="#ebcb8e">
  <ellipse cx="1400" cy="992" rx="8" ry="4"/><ellipse cx="1416" cy="992" rx="8" ry="4"/><ellipse cx="1440" cy="992" rx="8" ry="4"/><ellipse cx="1465" cy="992" rx="8" ry="4"/><ellipse cx="1490" cy="992" rx="8" ry="4"/><ellipse cx="1516" cy="992" rx="8" ry="4"/>
  <ellipse cx="1400" cy="1038" rx="8" ry="4"/><ellipse cx="1416" cy="1038" rx="8" ry="4"/><ellipse cx="1440" cy="1038" rx="8" ry="4"/><ellipse cx="1465" cy="1038" rx="8" ry="4"/><ellipse cx="1490" cy="1038" rx="8" ry="4"/><ellipse cx="1516" cy="1038" rx="8" ry="4"/>
  <ellipse cx="1400" cy="1094" rx="8" ry="4"/><ellipse cx="1416" cy="1094" rx="8" ry="4"/><ellipse cx="1440" cy="1094" rx="8" ry="4"/><ellipse cx="1465" cy="1094" rx="8" ry="4"/><ellipse cx="1490" cy="1094" rx="8" ry="4"/><ellipse cx="1516" cy="1094" rx="8" ry="4"/>
  <ellipse cx="1408" cy="1005" rx="5" ry="7"/><ellipse cx="1452" cy="1005" rx="5" ry="7"/><ellipse cx="1507" cy="1005" rx="5" ry="7"/><ellipse cx="1428" cy="1050" rx="5" ry="7"/><ellipse cx="1477" cy="1050" rx="5" ry="7"/><ellipse cx="1408" cy="1105" rx="5" ry="7"/><ellipse cx="1452" cy="1105" rx="5" ry="7"/><ellipse cx="1507" cy="1105" rx="5" ry="7"/>
 </g>
 <g fill="#f6c650" stroke="#f6c650" stroke-width="10" stroke-dasharray="4 3">
  <circle cx="1408" cy="940" r="22"/><circle cx="1458" cy="940" r="22"/><circle cx="1507" cy="940" r="22"/>
 </g>
 <g fill="#7a5a4c"><circle cx="1408" cy="940" r="14"/><circle cx="1458" cy="940" r="13"/><circle cx="1507" cy="940" r="14"/></g>
 <g fill="#8f6e60"><circle cx="1411" cy="940" r="7"/><circle cx="1510" cy="940" r="7"/></g>
</g>

<use href="#bu" transform="translate(1582,963) scale(1.45,1.6)"/>
<use href="#bu" transform="translate(1700,968) scale(1.45,1.6)"/>
<use href="#bu" transform="translate(1796,975) scale(1.45,1.6)"/>
<use href="#bu" transform="translate(1640,985) scale(1.45,1.55)"/>
<use href="#bu" transform="translate(1752,988) scale(1.45,1.55)"/>

<g fill="#f0d2a6">
 <ellipse cx="975" cy="1143" rx="8" ry="4"/><ellipse cx="950" cy="1144" rx="6" ry="3"/><ellipse cx="1090" cy="1143" rx="9" ry="4"/><ellipse cx="1120" cy="1142" rx="7" ry="3"/><ellipse cx="1340" cy="1142" rx="8" ry="4"/><ellipse cx="1380" cy="1143" rx="6" ry="3"/><ellipse cx="1440" cy="1140" rx="9" ry="5"/><ellipse cx="1465" cy="1143" rx="7" ry="3"/><ellipse cx="1565" cy="1142" rx="6" ry="3"/><ellipse cx="1700" cy="1141" rx="8" ry="4"/><ellipse cx="1750" cy="1143" rx="10" ry="4"/><ellipse cx="245" cy="1143" rx="6" ry="3"/><ellipse cx="340" cy="1143" rx="5" ry="3"/><ellipse cx="590" cy="1143" rx="5" ry="3"/><ellipse cx="810" cy="1143" rx="8" ry="4"/><ellipse cx="835" cy="1141" rx="6" ry="3"/><ellipse cx="1190" cy="1143" rx="7" ry="3"/><ellipse cx="1250" cy="1143" rx="8" ry="4"/><ellipse cx="55" cy="1143" rx="6" ry="3"/>
</g>

<!-- soil -->
<rect x="0" y="1145" width="2000" height="269" fill="#ef8f2f"/>
<rect x="0" y="1145" width="2000" height="4" fill="#e27f24"/>
<path d="M0,1196 C80,1190 120,1225 200,1215 C260,1205 300,1180 360,1190 C430,1200 470,1222 560,1212 C620,1202 680,1226 760,1216 C840,1200 900,1186 1000,1196 C1080,1206 1150,1190 1230,1200 C1300,1210 1380,1186 1460,1196 C1540,1206 1600,1216 1700,1202 C1780,1190 1880,1206 2000,1190 L2000,1414 L0,1414 Z" fill="#e8852b"/>
<path d="M0,1262 C60,1255 100,1275 170,1270 C240,1265 280,1250 340,1258 C420,1268 460,1285 540,1276 C620,1266 680,1258 760,1266 C840,1274 900,1282 990,1272 C1080,1262 1140,1252 1220,1262 C1300,1272 1360,1280 1440,1270 C1520,1260 1600,1256 1680,1266 C1760,1276 1860,1270 2000,1258 L2000,1414 L0,1414 Z" fill="#de7926"/>
<path d="M0,1300 C70,1296 110,1312 190,1306 C260,1300 320,1290 400,1300 C480,1310 540,1318 620,1308 C700,1298 760,1295 840,1304 C920,1314 990,1316 1070,1306 C1150,1296 1220,1295 1300,1305 C1380,1315 1450,1318 1530,1308 C1610,1298 1680,1296 1760,1306 C1840,1316 1920,1310 2000,1300 L2000,1414 L0,1414 Z" fill="#d46e22"/>
<path d="M0,1345 C60,1338 120,1352 200,1346 C280,1340 340,1330 420,1340 C500,1350 560,1352 640,1344 C720,1336 800,1334 880,1342 C960,1350 1030,1354 1110,1344 C1190,1334 1260,1336 1340,1346 C1420,1356 1490,1352 1570,1342 C1650,1332 1720,1336 1800,1344 C1880,1352 1940,1348 2000,1340 L2000,1414 L0,1414 Z" fill="#c9611d"/>
<g fill="#e48226" opacity="0.8">
 <circle cx="60" cy="1165" r="5"/><circle cx="190" cy="1172" r="7"/><circle cx="320" cy="1160" r="4"/><circle cx="450" cy="1178" r="6"/><circle cx="540" cy="1165" r="4"/><circle cx="700" cy="1175" r="7"/><circle cx="820" cy="1160" r="5"/><circle cx="960" cy="1172" r="4"/><circle cx="1110" cy="1166" r="6"/><circle cx="1260" cy="1176" r="5"/><circle cx="1400" cy="1163" r="7"/><circle cx="1560" cy="1172" r="4"/><circle cx="1700" cy="1168" r="6"/><circle cx="1850" cy="1176" r="5"/><circle cx="1960" cy="1162" r="4"/>
 <circle cx="120" cy="1230" r="5"/><circle cx="420" cy="1240" r="6"/><circle cx="800" cy="1235" r="5"/><circle cx="1150" cy="1228" r="6"/><circle cx="1500" cy="1238" r="5"/><circle cx="1900" cy="1232" r="6"/>
</g>
<g fill="#cf6a20" opacity="0.7">
 <circle cx="250" cy="1290" r="5"/><circle cx="600" cy="1286" r="6"/><circle cx="940" cy="1294" r="4"/><circle cx="1280" cy="1288" r="6"/><circle cx="1620" cy="1292" r="5"/><circle cx="380" cy="1325" r="5"/><circle cx="1050" cy="1330" r="6"/><circle cx="1750" cy="1326" r="5"/>
</g>

<g stroke="#fbeee0" stroke-width="3"><line x1="332" y1="1180" x2="332" y2="1326"/><line x1="665" y1="1180" x2="665" y2="1326"/><line x1="997" y1="1178" x2="997" y2="1322"/><line x1="1330" y1="1176" x2="1330" y2="1320"/><line x1="1663" y1="1176" x2="1663" y2="1320"/></g>

<text class="y" x="161" y="1264" text-anchor="middle" textLength="124" lengthAdjust="spacingAndGlyphs">Année 1</text>
<text class="y" x="493" y="1264" text-anchor="middle" textLength="125" lengthAdjust="spacingAndGlyphs">Année 2</text>
<text class="y" x="831" y="1264" text-anchor="middle" textLength="125" lengthAdjust="spacingAndGlyphs">Année 3</text>
<text class="y" x="1166" y="1262" text-anchor="middle" textLength="128" lengthAdjust="spacingAndGlyphs">Année 4</text>
<text class="y" x="1493" y="1262" text-anchor="middle" textLength="126" lengthAdjust="spacingAndGlyphs">Année 5</text>
<text class="y" x="1835" y="1262" text-anchor="middle" textLength="126" lengthAdjust="spacingAndGlyphs">Année 6</text>
</svg>
</body></html>
